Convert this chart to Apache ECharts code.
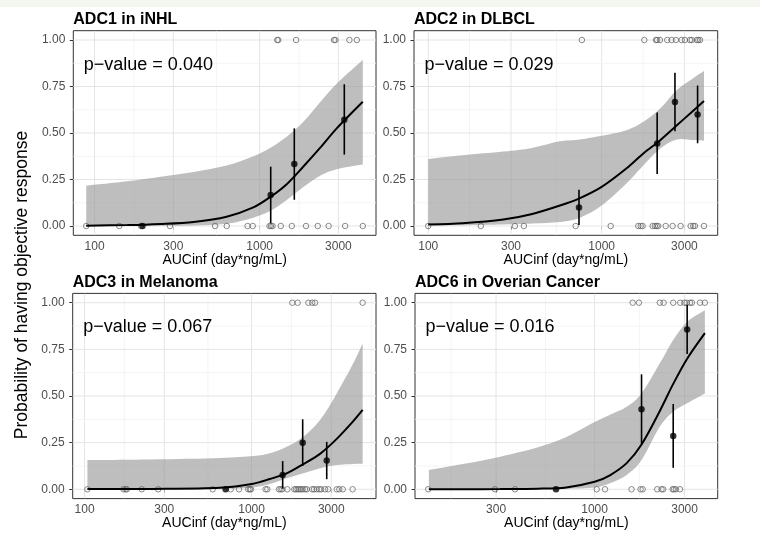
<!DOCTYPE html>
<html>
<head>
<meta charset="utf-8">
<script src="https://cdn.jsdelivr.net/npm/echarts@6/dist/echarts.min.js"></script>
<style>
  html, body { margin: 0; padding: 0; background: #ffffff; }
  #chart { width: 760px; height: 540px; }
</style>
</head>
<body>
<div id="chart"></div>
<script>
// ---- Labels ----
const panelTitles = ['ADC1 in iNHL', 'ADC2 in DLBCL', 'ADC3 in Melanoma', 'ADC6 in Overian Cancer'];
const pValues = ['0.040', '0.029', '0.067', '0.016'];
const xTickValues = [100, 300, 1000, 3000];
const xMinorValues = [173, 548, 1732, 5196];
const yTickValues = [0, 0.25, 0.5, 0.75, 1];
const yMinorValues = [0.125, 0.375, 0.625, 0.875];

// ---- ADC1 in iNHL ----
const adc1Responders = [1279, 1297, 1663, 2825, 2877, 3499, 3882];
const adc1NonResponders = [89, 141, 191, 286, 537, 632, 845, 908, 1148, 1172, 1197, 1343, 1567, 1910, 2249, 2618, 3296, 4217];
const adc1BinAuc = [195, 1167, 1622, 3258];
const adc1BinRate = [0, 0.167, 0.333, 0.571];
const adc1BinLow = [0, 0.015, 0.141, 0.384];
const adc1BinHigh = [0, 0.319, 0.525, 0.762];
const adc1FitAuc = [89, 158, 251, 398, 631, 916, 1156, 1459, 1841, 2323, 2931, 4217];
const adc1Fit = [0.002, 0.005, 0.011, 0.022, 0.05, 0.10, 0.155, 0.225, 0.32, 0.42, 0.525, 0.668];
const adc1FitLow = [0, 0.0005, 0.001, 0.003, 0.012, 0.045, 0.08, 0.14, 0.21, 0.27, 0.305, 0.33];
const adc1FitHigh = [0.217, 0.24, 0.265, 0.29, 0.325, 0.375, 0.42, 0.48, 0.56, 0.665, 0.765, 0.892];

// ---- ADC2 in DLBCL ----
const adc2Responders = [769, 1762, 2056, 2089, 2168, 2388, 2529, 2679, 2891, 3020, 3228, 3304, 3532, 3606, 3690];
const adc2NonResponders = [100, 201, 316, 356, 708, 1127, 1626, 1679, 1722, 1968, 2028, 2075, 2118, 2339, 2564, 2851, 3258, 3373, 3451, 3890];
const adc2BinAuc = [740, 2089, 2646, 3573];
const adc2BinRate = [0.1, 0.444, 0.667, 0.6];
const adc2BinLow = [0.005, 0.279, 0.51, 0.445];
const adc2BinHigh = [0.195, 0.61, 0.824, 0.755];
const adc2FitAuc = [100, 158, 271, 398, 575, 750, 1000, 1393, 1738, 2168, 2704, 3373, 3890];
const adc2Fit = [0.008, 0.015, 0.035, 0.065, 0.11, 0.15, 0.21, 0.31, 0.39, 0.46, 0.54, 0.62, 0.672];
const adc2FitLow = [0.003, 0.004, 0.008, 0.013, 0.022, 0.045, 0.11, 0.23, 0.325, 0.415, 0.465, 0.462, 0.459];
const adc2FitHigh = [0.36, 0.38, 0.40, 0.42, 0.455, 0.465, 0.485, 0.515, 0.56, 0.63, 0.73, 0.795, 0.833];

// ---- ADC3 in Melanoma ----
const adc3Responders = [1754, 1888, 2188, 2307, 2399, 4624];
const adc3NonResponders = [104, 171, 176, 179, 220, 276, 585, 750, 841, 955, 977, 991, 1213, 1242, 1459, 1493, 1528, 1637,
  1803, 1845, 1888, 1932, 1977, 2023, 2089, 2138, 2307, 2366, 2455, 2541, 2606, 2754, 2877, 3236, 3350, 3516, 4027];
const adc3BinAuc = [700, 1535, 2023, 2818];
const adc3BinRate = [0, 0.077, 0.25, 0.154];
const adc3BinLow = [0, 0.003, 0.125, 0.054];
const adc3BinHigh = [0, 0.151, 0.375, 0.254];
const adc3FitAuc = [104, 251, 646, 1023, 1288, 1622, 2042, 2570, 3236, 4064, 4624];
const adc3Fit = [0.001, 0.002, 0.008, 0.03, 0.055, 0.085, 0.135, 0.19, 0.27, 0.365, 0.425];
const adc3FitLow = [0, 0, 0.002, 0.01, 0.028, 0.059, 0.086, 0.113, 0.13, 0.136, 0.137];
const adc3FitHigh = [0.157, 0.16, 0.168, 0.178, 0.193, 0.228, 0.282, 0.371, 0.514, 0.675, 0.782];

// ---- ADC6 in Overian Cancer ----
const adc6Responders = [1592, 1718, 2218, 2323, 2612, 2844, 2992, 3076, 3206, 3281, 3622, 3846];
const adc6NonResponders = [131, 296, 378, 1026, 1135, 1570, 1754, 1799, 2148, 2265, 2312, 2594, 2636, 2698, 2838];
const adc6BinAuc = [624, 1774, 2612, 3097];
const adc6BinRate = [0, 0.429, 0.286, 0.857];
const adc6BinLow = [0, 0.242, 0.115, 0.725];
const adc6BinHigh = [0, 0.616, 0.457, 0.989];
const adc6FitAuc = [132, 200, 316, 501, 708, 1000, 1205, 1479, 1774, 2218, 2612, 3097, 3846];
const adc6Fit = [0, 0.0003, 0.001, 0.003, 0.01, 0.04, 0.075, 0.14, 0.24, 0.42, 0.565, 0.70, 0.837];
const adc6FitLow = [0, 0, 0.0005, 0.001, 0.003, 0.01, 0.032, 0.077, 0.157, 0.336, 0.416, 0.461, 0.514];
const adc6FitHigh = [0.103, 0.135, 0.175, 0.225, 0.28, 0.36, 0.40, 0.443, 0.514, 0.675, 0.80, 0.898, 0.96];

const panels = [
  { responders: adc1Responders, nonResponders: adc1NonResponders, binAuc: adc1BinAuc, binRate: adc1BinRate,
    binLow: adc1BinLow, binHigh: adc1BinHigh, fitAuc: adc1FitAuc, fit: adc1Fit, fitLow: adc1FitLow, fitHigh: adc1FitHigh },
  { responders: adc2Responders, nonResponders: adc2NonResponders, binAuc: adc2BinAuc, binRate: adc2BinRate,
    binLow: adc2BinLow, binHigh: adc2BinHigh, fitAuc: adc2FitAuc, fit: adc2Fit, fitLow: adc2FitLow, fitHigh: adc2FitHigh },
  { responders: adc3Responders, nonResponders: adc3NonResponders, binAuc: adc3BinAuc, binRate: adc3BinRate,
    binLow: adc3BinLow, binHigh: adc3BinHigh, fitAuc: adc3FitAuc, fit: adc3Fit, fitLow: adc3FitLow, fitHigh: adc3FitHigh },
  { responders: adc6Responders, nonResponders: adc6NonResponders, binAuc: adc6BinAuc, binRate: adc6BinRate,
    binLow: adc6BinLow, binHigh: adc6BinHigh, fitAuc: adc6FitAuc, fit: adc6Fit, fitLow: adc6FitLow, fitHigh: adc6FitHigh }
];

// Panel boxes (px) and log10 AUC ranges of each x axis
const layout = [
  { left: 73.3, top: 30.7, width: 302.7, height: 204.6, xMin: 1.871, xMax: 3.705 },
  { left: 414.0, top: 30.7, width: 303.7, height: 204.6, xMin: 1.918, xMax: 3.669 },
  { left: 72.7, top: 293.4, width: 303.3, height: 205.2, xMin: 1.929, xMax: 3.745 },
  { left: 415.0, top: 293.4, width: 302.7, height: 205.2, xMin: 2.047, xMax: 3.653 }
];

const Y_MIN = -0.05, Y_MAX = 1.05;
const FONT = '"Liberation Sans", Arial, sans-serif';
const lg = Math.log10;

const grids = [], xAxes = [], yAxes = [], series = [], graphics = [];

// thin page header strip
graphics.push({
  type: 'rect', shape: { x: 0, y: 0, width: 760, height: 7 }, silent: true, z: -1,
  style: { fill: '#f4f6f0' }
});

function lineElement(a, b, minor) {
  return {
    type: 'line',
    shape: { x1: a[0], y1: a[1], x2: b[0], y2: b[1] },
    style: { stroke: minor ? '#f1f1f1' : '#e4e4e4', lineWidth: minor ? 0.8 : 1 }
  };
}

// Catmull-Rom spline through pixel points, as cubic Bezier path commands
function splineSegments(pts) {
  let d = '';
  for (let k = 0; k < pts.length - 1; k++) {
    const p0 = pts[k - 1] || pts[k], p1 = pts[k], p2 = pts[k + 1], p3 = pts[k + 2] || pts[k + 1];
    const c1x = p1[0] + (p2[0] - p0[0]) / 6, c1y = p1[1] + (p2[1] - p0[1]) / 6;
    const c2x = p2[0] - (p3[0] - p1[0]) / 6, c2y = p2[1] - (p3[1] - p1[1]) / 6;
    d += ' C' + c1x + ',' + c1y + ' ' + c2x + ',' + c2y + ' ' + p2[0] + ',' + p2[1];
  }
  return d;
}

layout.forEach((box, i) => {
  const p = panels[i];
  const inRange = v => v >= box.xMin && v <= box.xMax;
  const majorX = xTickValues.map(lg).filter(inRange);

  grids.push({
    left: box.left, top: box.top, width: box.width, height: box.height,
    show: true, borderColor: '#333333', borderWidth: 1, backgroundColor: '#ffffff',
    containLabel: false, outerBoundsMode: 'none', z: 0
  });

  xAxes.push({
    type: 'value', gridIndex: i, min: box.xMin, max: box.xMax,
    name: 'AUCinf (day*ng/mL)', nameLocation: 'middle', nameGap: 15,
    nameTextStyle: { fontFamily: FONT, fontSize: 14, color: '#000000' },
    axisLine: { show: false },
    splitLine: { show: false },
    axisTick: { show: true, length: 3.5, customValues: majorX, lineStyle: { color: '#333333', width: 1 } },
    axisLabel: {
      show: true, customValues: majorX, margin: 5, fontFamily: FONT, fontSize: 12, color: '#4d4d4d',
      formatter: v => String(Math.round(Math.pow(10, v)))
    }
  });

  yAxes.push({
    type: 'value', gridIndex: i, min: Y_MIN, max: Y_MAX,
    axisLine: { show: false },
    splitLine: { show: false },
    axisTick: { show: true, length: 3.5, customValues: yTickValues, lineStyle: { color: '#333333', width: 1 } },
    axisLabel: {
      show: true, customValues: yTickValues, margin: 8, fontFamily: FONT, fontSize: 12, color: '#4d4d4d',
      formatter: v => v.toFixed(2)
    }
  });

  // background grid lines
  const vLines = xTickValues.map(v => [lg(v), 0]).concat(xMinorValues.map(v => [lg(v), 1]))
    .filter(d => inRange(d[0]));
  series.push({
    type: 'custom', xAxisIndex: i, yAxisIndex: i, silent: true, z: 1, clip: true,
    data: vLines,
    renderItem: (params, api) => lineElement(api.coord([api.value(0), Y_MIN]), api.coord([api.value(0), Y_MAX]), api.value(1) === 1)
  });
  const hLines = yTickValues.map(v => [box.xMin, v, 0]).concat(yMinorValues.map(v => [box.xMin, v, 1]));
  series.push({
    type: 'custom', xAxisIndex: i, yAxisIndex: i, silent: true, z: 1, clip: true,
    data: hLines,
    encode: { x: 0, y: 1 },
    renderItem: (params, api) => lineElement(api.coord([box.xMin, api.value(1)]), api.coord([box.xMax, api.value(1)]), api.value(2) === 1)
  });

  // confidence band of the fit, drawn as one filled shape
  const bandRows = p.fitAuc.map((a, k) => [lg(a), p.fitLow[k], p.fitHigh[k]]);
  series.push({
    type: 'custom', xAxisIndex: i, yAxisIndex: i, silent: true, z: 2, clip: true,
    data: bandRows,
    encode: { x: 0, y: [1, 2] },
    renderItem: (params, api) => {
      if (params.dataIndex !== 0) return null;
      const upper = bandRows.map(r => api.coord([r[0], r[2]]));
      const lower = bandRows.map(r => api.coord([r[0], r[1]])).reverse();
      const d = 'M' + upper[0][0] + ',' + upper[0][1] + splineSegments(upper) +
        ' L' + lower[0][0] + ',' + lower[0][1] + splineSegments(lower) + ' Z';
      return { type: 'path', shape: { pathData: d }, style: { fill: 'rgba(150,150,150,0.62)', stroke: null } };
    }
  });

  // observed outcomes (1 = response, 0 = no response)
  series.push({
    type: 'scatter', xAxisIndex: i, yAxisIndex: i, silent: true, z: 3,
    data: p.responders.map(a => [lg(a), 1]).concat(p.nonResponders.map(a => [lg(a), 0])),
    symbol: 'circle', symbolSize: 5.5,
    itemStyle: { color: 'rgba(0,0,0,0)', borderColor: '#5e5e5e', borderWidth: 0.9 }
  });

  // fitted logistic curve
  series.push({
    type: 'line', xAxisIndex: i, yAxisIndex: i, silent: true, z: 4,
    data: p.fitAuc.map((a, k) => [lg(a), p.fit[k]]),
    symbol: 'none', smooth: 0.3, lineStyle: { color: '#000000', width: 2 }
  });

  // binned response rates with error bars
  series.push({
    type: 'custom', xAxisIndex: i, yAxisIndex: i, silent: true, z: 5,
    data: p.binAuc.map((a, k) => [lg(a), p.binLow[k], p.binHigh[k]]),
    encode: { x: 0, y: [1, 2] },
    renderItem: (params, api) => {
      const a = api.coord([api.value(0), api.value(1)]);
      const b = api.coord([api.value(0), api.value(2)]);
      return { type: 'line', shape: { x1: a[0], y1: a[1], x2: b[0], y2: b[1] },
        style: { stroke: '#000000', lineWidth: 1.6 } };
    }
  });
  series.push({
    type: 'scatter', xAxisIndex: i, yAxisIndex: i, silent: true, z: 6,
    data: p.binAuc.map((a, k) => [lg(a), p.binRate[k]]),
    symbol: 'circle', symbolSize: 6.5, itemStyle: { color: '#000000' }
  });

  // panel title and p-value annotation
  graphics.push({
    type: 'text', x: box.left, y: box.top - 11, silent: true,
    style: { text: panelTitles[i], font: 'bold 16px ' + FONT, fill: '#000000', textAlign: 'left', textVerticalAlign: 'middle' }
  });
  graphics.push({
    type: 'text', x: box.left + 10.5, y: box.top + 34, silent: true, z: 10,
    style: { text: 'p\u2212value = ' + pValues[i], font: '18px ' + FONT, fill: '#000000', textAlign: 'left', textVerticalAlign: 'middle' }
  });
});

// shared y-axis title
graphics.push({
  type: 'text', x: 22, y: 285, rotation: Math.PI / 2, silent: true,
  style: { text: 'Probability of having objective response', font: '17.5px ' + FONT, fill: '#000000',
    textAlign: 'center', textVerticalAlign: 'middle' }
});

const chart = echarts.init(document.getElementById('chart'), null, { renderer: 'canvas' });
chart.setOption({
  animation: false,
  backgroundColor: '#ffffff',
  grid: grids,
  xAxis: xAxes,
  yAxis: yAxes,
  series: series,
  graphic: graphics
});
</script>
</body>
</html>
